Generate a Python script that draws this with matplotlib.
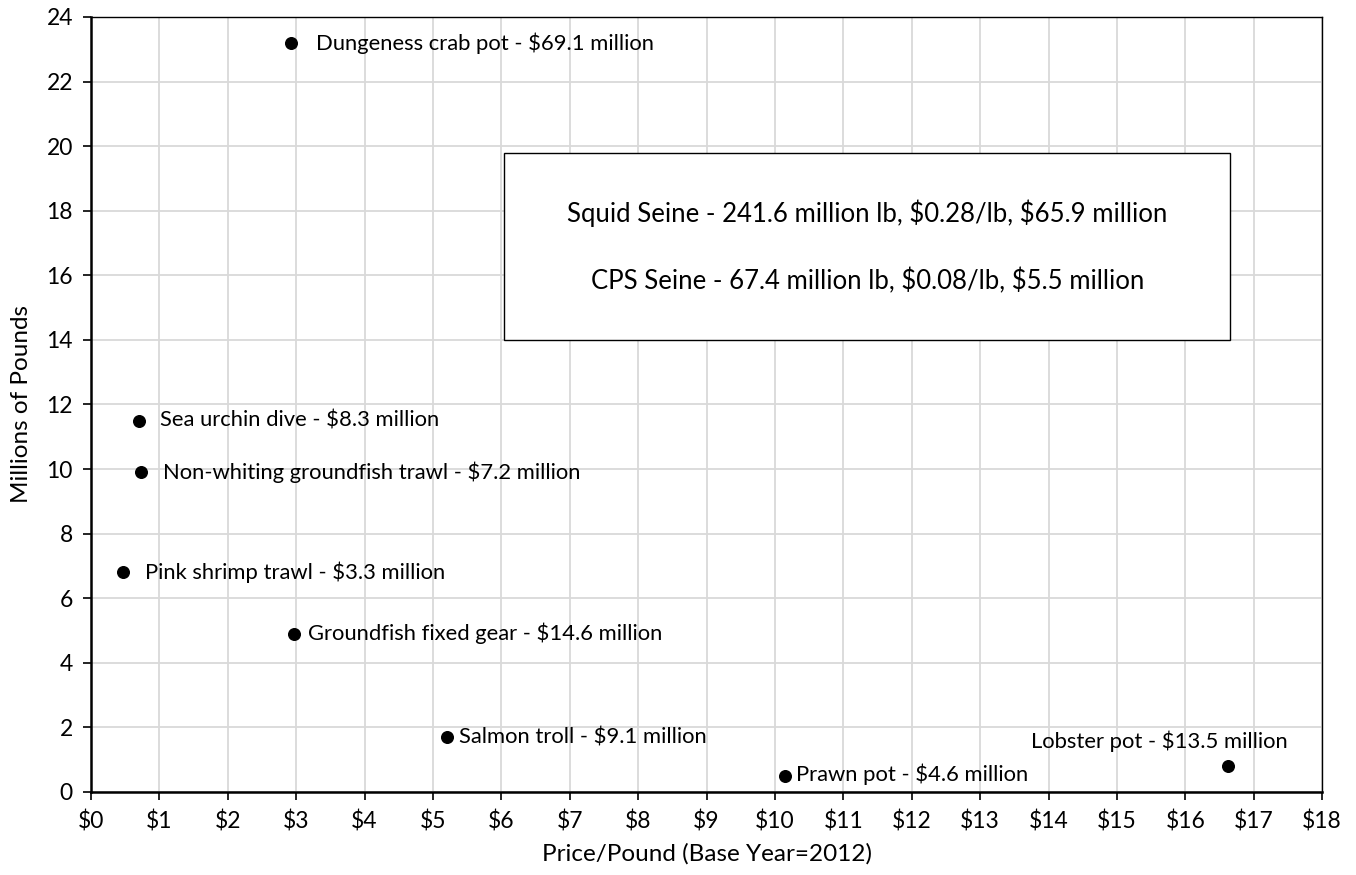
import matplotlib.pyplot as plt
from matplotlib.patches import Rectangle
from matplotlib.ticker import MultipleLocator, FuncFormatter

plt.rcParams['font.family'] = ['Lato', 'DejaVu Sans']
plt.rcParams['text.parse_math'] = False

fisheries = ['Dungeness crab pot', 'Sea urchin dive', 'Non-whiting groundfish trawl',
             'Pink shrimp trawl', 'Groundfish fixed gear', 'Salmon troll',
             'Prawn pot', 'Lobster pot']
price = [2.92, 0.70, 0.73, 0.47, 2.97, 5.20, 10.15, 16.62]
pounds = [23.2, 11.5, 9.9, 6.8, 4.9, 1.7, 0.5, 0.8]
revenue = [69.1, 8.3, 7.2, 3.3, 14.6, 9.1, 4.6, 13.5]
# label offsets in pixels from each point
offsets = [(25, 0), (21, 0), (22, 0), (22, 0), (14, 0), (12, 0), (11, 2), (-68, 25)]
aligns = ['left'] * 7 + ['center']

seine_lines = ['Squid Seine - 241.6 million lb, $0.28/lb, $65.9 million',
               'CPS Seine - 67.4 million lb, $0.08/lb, $5.5 million']

fig = plt.figure(figsize=(13.56, 8.75), dpi=100)
ax = fig.add_axes([0.0671, 0.0949, 0.9079, 0.8857])

ax.scatter(price, pounds, s=70, color='black', zorder=3)
for name, x, y, r, off, ha in zip(fisheries, price, pounds, revenue, offsets, aligns):
    ax.annotate(f'{name} - ${r} million', (x, y), xytext=off, textcoords='offset pixels',
                ha=ha, va='center', fontsize=15.8)

ax.set_xlim(0, 18)
ax.set_ylim(0, 24)
ax.xaxis.set_major_locator(MultipleLocator(1))
ax.yaxis.set_major_locator(MultipleLocator(2))
ax.xaxis.set_major_formatter(FuncFormatter(lambda v, p: f'${v:.0f}'))
ax.tick_params(labelsize=16.5, direction='out', length=6, width=1.2, pad=7)
ax.grid(True, color='#d9d9d9', linewidth=1.3)
ax.set_axisbelow(True)
for side in ['left', 'bottom']:
    ax.spines[side].set_linewidth(1.8)
for side in ['top', 'right']:
    ax.spines[side].set_linewidth(1.0)

ax.set_xlabel('Price/Pound (Base Year=2012)', fontsize=17.5, labelpad=8)
ax.set_ylabel('Millions of Pounds', fontsize=17.5, labelpad=10)

# text box for the two seine fisheries that are off the scale
ax.add_patch(Rectangle((6.04, 14.0), 10.61, 5.8, facecolor='white', edgecolor='black',
                       linewidth=1.0, zorder=2))
ax.text(11.35, 17.93, seine_lines[0], ha='center', va='center', fontsize=18.5, zorder=4)
ax.text(11.35, 15.82, seine_lines[1], ha='center', va='center', fontsize=18.5, zorder=4)

fig.savefig('out.png', dpi=100, facecolor='white')
